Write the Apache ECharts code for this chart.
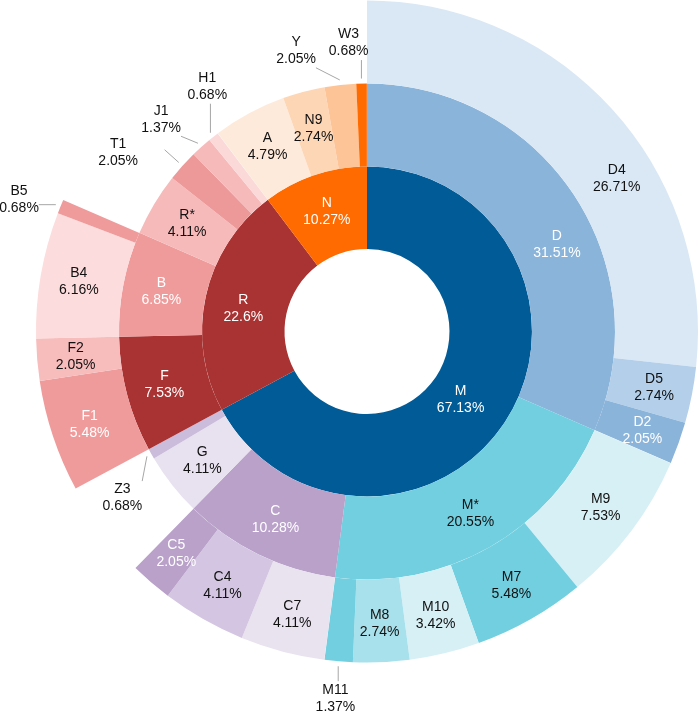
<!DOCTYPE html>
<html lang="en">
<head>
    <meta charset="UTF-8">
    <title>Sunburst</title>
    <style>
        html, body { margin: 0; padding: 0; background: #fff; }
        #chart { width: 699px; height: 713px; }
    </style>
    <script src="https://cdn.jsdelivr.net/npm/echarts@6.0.0/dist/echarts.min.js"></script>
</head>
<body>
<div id="chart"></div>
<script>
    // inner ring
    var ring1Names = ['M', 'R', 'N'];
    var ring1Values = [67.13, 22.6, 10.27];

    // middle ring (parent = node of inner ring)
    var ring2Names = ['D', 'M*', 'C', 'G', 'Z3', 'F', 'B', 'R*', 'T1', 'J1', 'H1', 'A', 'N9', 'Y', 'W3'];
    var ring2Values = [31.51, 20.55, 10.28, 4.11, 0.68, 7.53, 6.85, 4.11, 2.05, 1.37, 0.68, 4.79, 2.74, 2.05, 0.68];
    var ring2Parents = ['M', 'M', 'M', 'M', 'M', 'R', 'R', 'R', 'R', 'R', 'R', 'N', 'N', 'N', 'N'];

    // outer ring (parent = node of middle ring)
    var ring3Names = ['D4', 'D5', 'D2', 'M9', 'M7', 'M10', 'M8', 'M11', 'C7', 'C4', 'C5', 'F1', 'F2', 'B4', 'B5'];
    var ring3Values = [26.71, 2.74, 2.05, 7.53, 5.48, 3.42, 2.74, 1.37, 4.11, 4.11, 2.05, 5.48, 2.05, 6.16, 0.68];
    var ring3Parents = ['D', 'D', 'D', 'M*', 'M*', 'M*', 'M*', 'M*', 'C', 'C', 'C', 'F', 'F', 'B', 'B'];

    // colours
    var colors = {
        'M': '#005b96', 'R': '#a93232', 'N': '#ff6b00',
        'D': '#8ab4da', 'M*': '#72cfe0', 'C': '#b9a1ca', 'G': '#e8e1ef', 'Z3': '#cbbcdb',
        'F': '#a93232', 'B': '#ef9b9b', 'R*': '#f6baba', 'T1': '#ed9999', 'J1': '#f6baba', 'H1': '#fbd9d9',
        'A': '#feeadb', 'N9': '#fdd6b6', 'Y': '#fdc497', 'W3': '#ff6b00',
        'D4': '#dae8f5', 'D5': '#b3cfea', 'D2': '#8ab4da',
        'M9': '#d7f0f6', 'M7': '#72cfe0', 'M10': '#d7f0f6', 'M8': '#a8e1eb', 'M11': '#72cfe0',
        'C7': '#e9e2ef', 'C4': '#d4c6e2', 'C5': '#b9a1ca',
        'F1': '#ef9b9b', 'F2': '#f7bcbc', 'B4': '#fcdcdc', 'B5': '#ef9b9b'
    };
    var whiteText = ['M', 'R', 'N', 'D', 'D2', 'F', 'F1', 'B', 'C', 'C5'];

    // labels drawn outside with a leader line
    var outsideLabels = ['Z3', 'T1', 'J1', 'H1', 'Y', 'W3', 'B5', 'M11'];
    // label nudges: [angle deg, radius px]
    var labelNudge = {
        'M': [5.2, -8], 'D': [8.6, 2.5], 'D4': [10.4, 3.5], 'R': [-2, 2],
        'Z3': [-4.7, 0], 'T1': [-6.2, 10], 'J1': [-2.2, 0], 'H1': [5.1, 0],
        'Y': [-8, 0], 'W3': [-2.4, 0], 'B5': [-1.4, 0], 'M11': [0, 0]
    };

    var CX = 367, CY = 331.5;
    var radii = [[82.5, 165], [165, 248], [248, 331]];
    var calloutLen = [0, 19, 15];

    // build each ring in order of its parents, filling empty space with transparent gaps
    function buildRing(parentItems, names, values, parents) {
        var out = [];
        parentItems.forEach(function (p) {
            var used = 0;
            if (!p.gap) {
                for (var i = 0; i < names.length; i++) {
                    if (parents[i] === p.name) {
                        out.push({name: names[i], value: values[i]});
                        used += values[i];
                    }
                }
            }
            var rest = p.value - used;
            if (rest > 1e-6) out.push({name: '', value: rest, gap: true});
        });
        return out;
    }

    var ring1 = ring1Names.map(function (n, i) { return {name: n, value: ring1Values[i]}; });
    var ring2 = buildRing(ring1, ring2Names, ring2Values, ring2Parents);
    var ring3 = buildRing(ring2, ring3Names, ring3Values, ring3Parents);
    var rings = [ring1, ring2, ring3];

    // mid angles of nudged items, per series / data index
    var labelInfo = [{}, {}, {}];
    rings.forEach(function (ring, s) {
        var total = ring.reduce(function (a, d) { return a + d.value; }, 0);
        var acc = 0;
        ring.forEach(function (d, i) {
            if (!d.gap && labelNudge[d.name]) {
                labelInfo[s][i] = {
                    name: d.name,
                    mid: (acc + d.value / 2) / total * 360,
                    outside: outsideLabels.indexOf(d.name) >= 0
                };
            }
            acc += d.value;
        });
    });

    function toPieData(ring) {
        return ring.map(function (d) {
            if (d.gap) {
                return {name: '', value: d.value, itemStyle: {color: 'rgba(0,0,0,0)'}, label: {show: false}, labelLine: {show: false}};
            }
            var item = {
                name: d.name,
                value: d.value,
                itemStyle: {color: colors[d.name]},
                label: {color: whiteText.indexOf(d.name) >= 0 ? '#ffffff' : '#111111'}
            };
            if (outsideLabels.indexOf(d.name) >= 0) {
                item.label.position = 'outside';
                item.labelLine = {show: true, length: 10, length2: 0, lineStyle: {color: '#a6a6a6', width: 1}};
            }
            return item;
        });
    }

    function clamp(v, a, b) { return Math.max(a, Math.min(b, v)); }

    function placeLabel(p) {
        var info = labelInfo[p.seriesIndex][p.dataIndex];
        if (!info) return;
        var nudge = labelNudge[info.name];
        var ring = radii[p.seriesIndex];
        var b = (info.mid + nudge[0]) * Math.PI / 180;
        var dx = Math.sin(b), dy = -Math.cos(b);
        if (!info.outside) {
            var rm = (ring[0] + ring[1]) / 2 + nudge[1];
            return {x: CX + dx * rm, y: CY + dy * rm, align: 'center', verticalAlign: 'middle'};
        }
        var a = info.mid * Math.PI / 180;
        var r0 = ring[1] + 5;
        var start = [CX + Math.sin(a) * r0, CY - Math.cos(a) * r0];
        var w = p.labelRect.width, h = p.labelRect.height;
        var t = Math.min(w / 2 / Math.max(Math.abs(dx), 1e-6), h / 2 / Math.max(Math.abs(dy), 1e-6));
        var rEnd = r0 + calloutLen[p.seriesIndex];
        var lx = CX + dx * (rEnd + t + nudge[1]), ly = CY + dy * (rEnd + t + nudge[1]);
        var end = [clamp(start[0], lx - w / 2, lx + w / 2), clamp(start[1], ly - h / 2, ly + h / 2)];
        if (nudge[1] > 0) {
            end = [CX + Math.sin(a) * rEnd, CY - Math.cos(a) * rEnd];
        }
        return {x: lx, y: ly, align: 'center', verticalAlign: 'middle', labelLinePoints: [start, end, end]};
    }

    var myChart = echarts.init(document.getElementById('chart'));
    var option = {
        animation: false,
        series: rings.map(function (ring, s) {
            return {
                type: 'pie',
                radius: radii[s],
                center: [CX, CY],
                startAngle: 90,
                clockwise: true,
                avoidLabelOverlap: false,
                silent: true,
                emphasis: {disabled: true},
                label: {
                    position: 'inside',
                    formatter: '{b}\n{c}%',
                    fontFamily: 'Liberation Sans, Arial, sans-serif',
                    fontSize: 14,
                    lineHeight: 17,
                    color: '#111111'
                },
                labelLine: {show: false},
                labelLayout: placeLabel,
                data: toPieData(ring)
            };
        })
    };
    myChart.setOption(option);
</script>
</body>
</html>
